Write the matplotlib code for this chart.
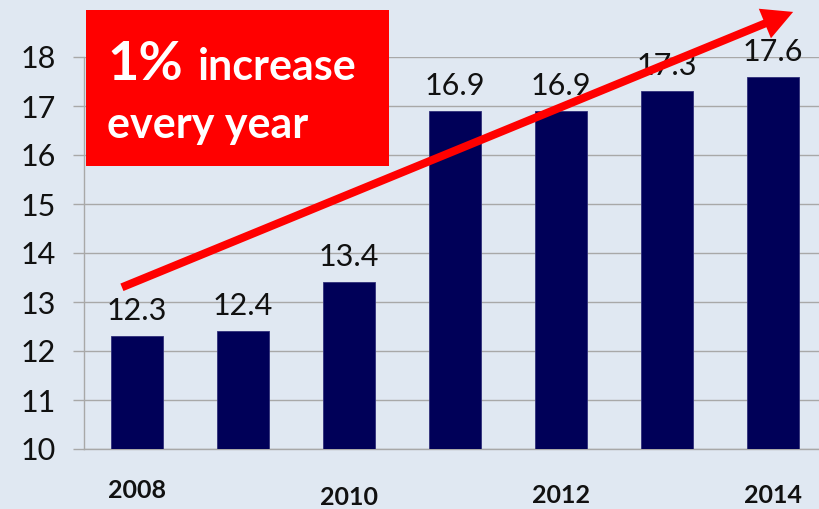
import matplotlib
matplotlib.use("Agg")
import matplotlib.pyplot as plt
from matplotlib.patches import Rectangle, FancyArrowPatch

years = ["2008", "2009", "2010", "2011", "2012", "2013", "2014"]
values = [12.3, 12.4, 13.4, 16.9, 16.9, 17.3, 17.6]
shown_year_labels = {"2008": -0.107, "2010": -0.124, "2012": -0.119, "2014": -0.119}
yticks = [10, 11, 12, 13, 14, 15, 16, 17, 18]

W, H = 819, 509
BG = "#e0e8f2"
GRID = "#a8a8a8"
BAR = "#000058"
RED = "#ff0000"
FONT = ["Lato", "DejaVu Sans"]

plt.rcParams["font.family"] = FONT

fig = plt.figure(figsize=(W / 100, H / 100), dpi=100, facecolor=BG)
ax = fig.add_axes([84 / W, 60 / H, (W - 84) / W, 392 / H])
ax.set_facecolor(BG)

x = list(range(len(years)))
ax.bar(x, values, width=0.49, color=BAR, edgecolor="#30307a", linewidth=0.6, zorder=3)

ax.set_ylim(10, 18)
ax.set_xlim(-0.5, (W - 137) / 106)
ax.set_yticks(yticks)
ax.set_yticklabels([str(t) for t in yticks], fontsize=22, color="#111111")
ax.yaxis.grid(True, color=GRID, linewidth=1.0, zorder=0)
ax.tick_params(axis="y", length=8, width=1.0, color=GRID, pad=12)
ax.set_xticks([])
for s in ["top", "right"]:
    ax.spines[s].set_visible(False)
for s in ["left", "bottom"]:
    ax.spines[s].set_color(GRID)
    ax.spines[s].set_linewidth(1.0)

# data labels
for xi, v in zip(x, values):
    ax.annotate(f"{v:.1f}", (xi, v), xytext=(0, 11.5), textcoords="offset points",
                ha="center", va="baseline", fontsize=22, color="#111111",
                zorder=4, annotation_clip=False)

# staggered year labels
for xi, yr in zip(x, years):
    if yr in shown_year_labels:
        ax.text(xi, shown_year_labels[yr], yr, transform=ax.get_xaxis_transform(),
                ha="center", va="center", fontsize=18, fontweight="bold",
                color="#111111", clip_on=False)

# red trend arrow
arrow = FancyArrowPatch((-0.142, 13.30), (6.19, 18.92),
                        arrowstyle="simple,head_length=2.2,head_width=2.3,tail_width=0.58",
                        mutation_scale=10, color=RED, lw=0, shrinkA=0, shrinkB=0,
                        transform=ax.transData, clip_on=False, zorder=6)
ax.add_artist(arrow)

# red box with text
box = Rectangle((86 / W, 1 - 166 / H), (389 - 86) / W, (166 - 10) / H,
                transform=fig.transFigure, facecolor=RED, edgecolor="none", zorder=7)
fig.add_artist(box)
fig.text(107 / W, 1 - 80 / H, "1%", fontsize=39, fontweight="bold", color="white",
         va="baseline", ha="left", zorder=8)
fig.text(198 / W, 1 - 80 / H, "increase", fontsize=31, fontweight="bold", color="white",
         va="baseline", ha="left", zorder=8)
fig.text(107 / W, 1 - 138 / H, "every year", fontsize=31, fontweight="bold", color="white",
         va="baseline", ha="left", zorder=8)

fig.savefig("out.png", dpi=100, facecolor=BG)
